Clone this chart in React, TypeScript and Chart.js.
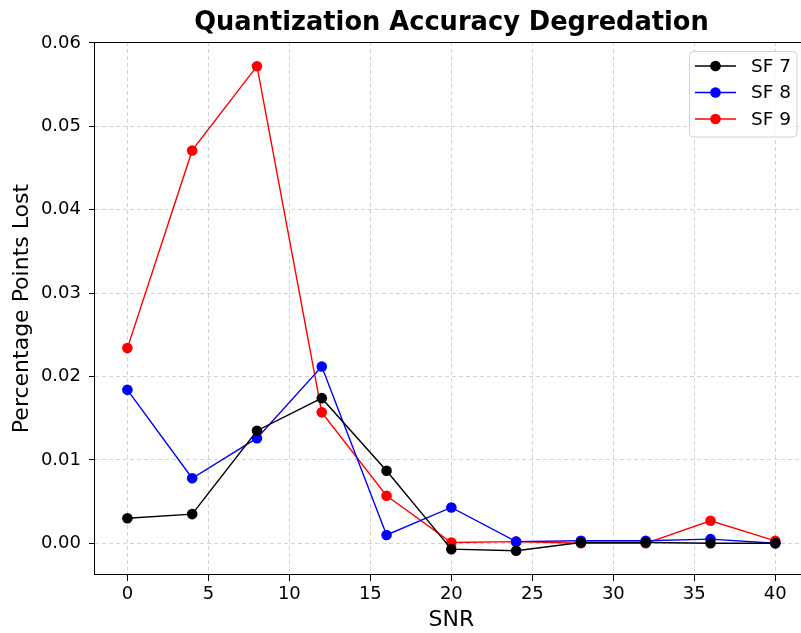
import React, { useEffect, useRef } from "react";
import { Chart, registerables } from "chart.js";

Chart.register(...registerables);

const snr = [0, 4, 8, 12, 16, 20, 24, 28, 32, 36, 40];
const sf7 = [0.003, 0.0035, 0.0135, 0.0174, 0.0087, -0.0007, -0.0009, 0.0001, 0.0001, 0.0, 0.0];
const sf8 = [0.0184, 0.0078, 0.0126, 0.0212, 0.001, 0.0043, 0.0002, 0.0003, 0.0003, 0.0005, 0.0];
const sf9 = [0.0234, 0.0471, 0.0572, 0.0157, 0.0057, 0.0001, 0.0002, 0.0, 0.0, 0.0027, 0.0003];
const seriesNames = ["SF 7", "SF 8", "SF 9"];
const seriesColors = ["#000000", "#0000ff", "#ff0000"];
const xTicks = [0, 5, 10, 15, 20, 25, 30, 35, 40];
const yTicks = [0, 0.01, 0.02, 0.03, 0.04, 0.05, 0.06];
const titleText = "Quantization Accuracy Degredation";
const xTitle = "SNR";
const yTitle = "Percentage Points Lost";

const FONT = "'DejaVu Sans', sans-serif";
const CANVAS_W = 813;

export default function App() {
  const ref = useRef<HTMLCanvasElement | null>(null);
  useEffect(() => {
    document.body.style.margin = "0";
    const canvas = ref.current!;
    const allSeries = [sf7, sf8, sf9];
    const datasets = allSeries.map((s, i) => ({
      label: seriesNames[i],
      data: snr.map((x, j) => ({ x, y: s[j] })),
      borderColor: seriesColors[i],
      backgroundColor: seriesColors[i],
      borderWidth: 1.4,
      pointRadius: 5.3,
      pointHoverRadius: 5.3,
      pointBorderWidth: 0,
      tension: 0,
    }));

    const framePlugin = {
      id: "frame",
      afterDraw(chart: any) {
        const { ctx, chartArea: a } = chart;
        ctx.save();
        ctx.strokeStyle = "#000";
        ctx.lineWidth = 1;
        ctx.strokeRect(Math.round(a.left) - 0.5, Math.round(a.top) + 0.5, Math.round(a.right - a.left), Math.round(a.bottom - a.top) - 1);
        // title
        ctx.fillStyle = "#000";
        ctx.font = `bold 25.7px ${FONT}`;
        ctx.textAlign = "center";
        ctx.textBaseline = "middle";
        ctx.fillText(titleText, 451.5, 23);
        // legend
        const lx = 689, ly = 51, lw = 108, lh = 86;
        ctx.fillStyle = "rgba(255,255,255,0.8)";
        ctx.strokeStyle = "#d0d0d0";
        ctx.lineWidth = 1;
        ctx.beginPath();
        const r = 4;
        ctx.moveTo(lx + r, ly + 0.5);
        ctx.arcTo(lx + lw, ly + 0.5, lx + lw, ly + lh, r);
        ctx.arcTo(lx + lw, ly + lh, lx, ly + lh, r);
        ctx.arcTo(lx + 0.5, ly + lh, lx + 0.5, ly, r);
        ctx.arcTo(lx + 0.5, ly + 0.5, lx + lw, ly + 0.5, r);
        ctx.closePath();
        ctx.fill();
        ctx.stroke();
        ctx.font = `18.5px ${FONT}`;
        ctx.textAlign = "left";
        seriesNames.forEach((name, i) => {
          const y = 66 + i * 26.5;
          ctx.strokeStyle = seriesColors[i];
          ctx.lineWidth = 1.4;
          ctx.beginPath();
          ctx.moveTo(695, y);
          ctx.lineTo(736, y);
          ctx.stroke();
          ctx.fillStyle = seriesColors[i];
          ctx.beginPath();
          ctx.arc(715.5, y, 5.3, 0, Math.PI * 2);
          ctx.fill();
          ctx.fillStyle = "#000";
          ctx.fillText(name, 751, y + 1);
        });
        ctx.restore();
      },
    };

    const gridOpts: any = {
      color: "rgba(0,0,0,0.22)",
      lineWidth: 0.8,
      drawTicks: true,
      tickLength: 6,
      tickColor: "#000",
      tickBorderDash: [],
      tickWidth: 1,
    };

    const chart = new Chart(canvas, {
      type: "line",
      data: { datasets },
      options: {
        responsive: false,
        animation: false,
        layout: { padding: { top: 42, right: 0, left: 0, bottom: 0 } },
        plugins: {
          legend: { display: false },
          title: { display: false },
          tooltip: { enabled: false },
        },
        scales: {
          x: {
            type: "linear",
            min: -2,
            max: 42,
            afterBuildTicks: (s: any) => {
              s.ticks = xTicks.map((v) => ({ value: v }));
            },
            afterFit: (s: any) => {
              s.height = 58;
              s.paddingLeft = 0;
              s.paddingRight = 0;
            },
            grid: gridOpts,
            border: { display: false, dash: [4, 3] },
            ticks: {
              color: "#000",
              font: { family: FONT, size: 18 },
              padding: 3,
              maxRotation: 0,
              autoSkip: false,
              callback: (v: any) => String(v),
            },
            title: {
              display: true,
              text: xTitle,
              color: "#000",
              font: { family: FONT, size: 22 },
              padding: { top: 0, bottom: 0 },
            },
          },
          y: {
            type: "linear",
            min: -0.0038,
            max: 0.0601,
            afterBuildTicks: (s: any) => {
              s.ticks = yTicks.map((v) => ({ value: v }));
            },
            afterFit: (s: any) => {
              s.width = 95;
              s.paddingTop = 0;
              s.paddingBottom = 0;
            },
            grid: gridOpts,
            border: { display: false, dash: [4, 3] },
            ticks: {
              color: "#000",
              font: { family: FONT, size: 18 },
              padding: 8,
              autoSkip: false,
              callback: (v: any) => Number(v).toFixed(2),
            },
            title: {
              display: true,
              text: yTitle,
              color: "#000",
              font: { family: FONT, size: 22 },
              padding: { top: 9, bottom: 9 },
            },
          },
        },
      },
      plugins: [framePlugin],
    });
    return () => chart.destroy();
  }, []);

  return (
    <div style={{ position: "absolute", left: 0, top: 0, width: 801, height: 633, background: "#fff", overflow: "hidden" }}>
      <canvas ref={ref} width={CANVAS_W} height={633} style={{ width: CANVAS_W, height: 633, display: "block" }} />
    </div>
  );
}
